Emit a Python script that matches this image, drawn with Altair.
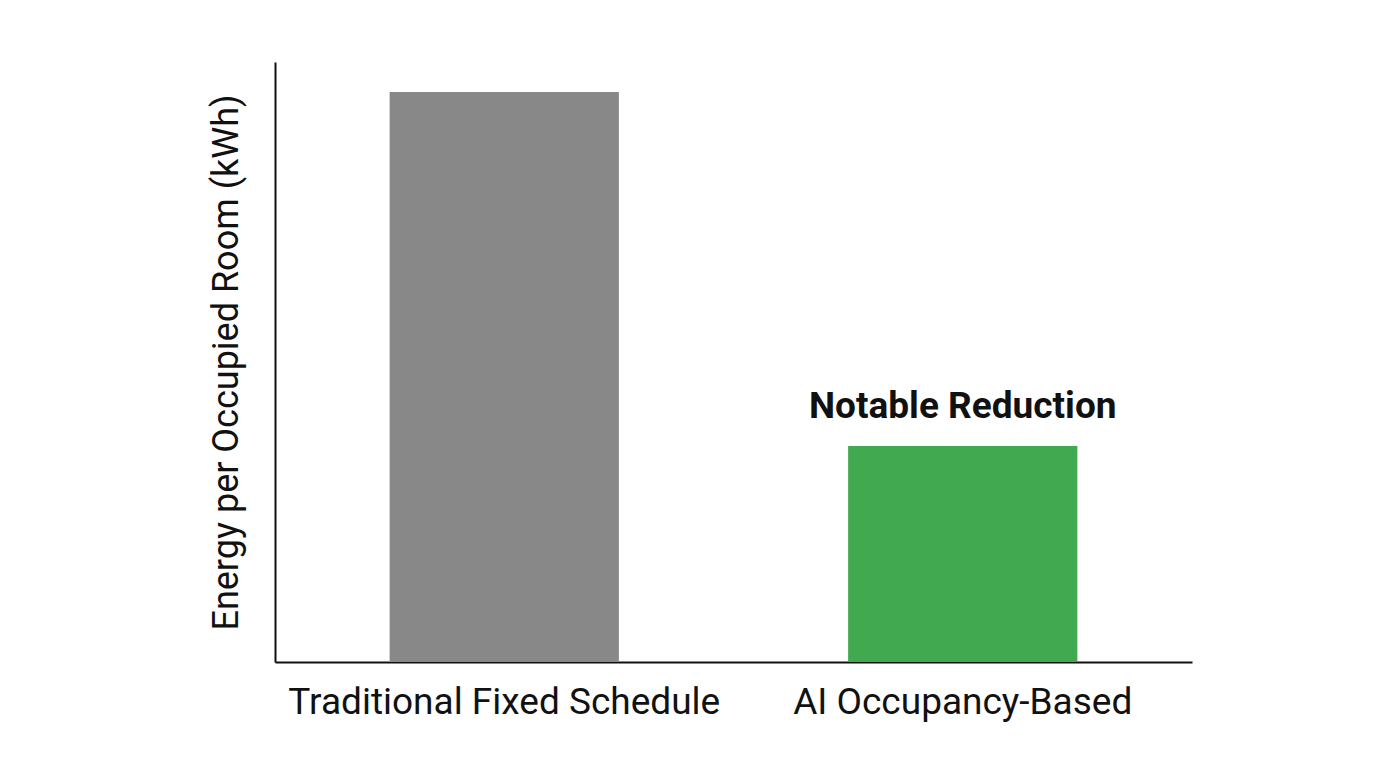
import altair as alt
import pandas as pd

categories = ["Traditional Fixed Schedule", "AI Occupancy-Based"]
values = [95, 36]
colors = ["#888888", "#41A950"]
annotation = ["", "Notable Reduction"]

df = pd.DataFrame({"cat": categories, "val": values, "color": colors, "note": annotation})

x = alt.X("cat:N", sort=categories,
          scale=alt.Scale(paddingInner=0.5, paddingOuter=0.25),
          axis=alt.Axis(title=None, labelAngle=0, labelFontSize=37, labelFont="Roboto",
                        labelColor="#111111", ticks=False, labelPadding=22,
                        domainColor="#111111", domainWidth=2, labelLimit=600))
y = alt.Y("val:Q", scale=alt.Scale(domain=[0, 100]),
          axis=alt.Axis(title="Energy per Occupied Room (kWh)", titleFont="Roboto",
                        titleFontSize=36, titleFontWeight="normal", titleColor="#111111",
                        labels=False, ticks=False, grid=False, titlePadding=30,
                        domainColor="#111111", domainWidth=2))

bars = alt.Chart(df).mark_bar().encode(x=x, y=y, color=alt.Color("color:N", scale=None))
text = alt.Chart(df).mark_text(fontSize=37, fontWeight="bold", font="Roboto", dy=-28,
                               baseline="alphabetic", color="#111111").encode(
    x=alt.X("cat:N", sort=categories), y="val:Q", text="note:N")

chart = (bars + text).properties(
    width=917, height=600,
    background="white",
    autosize=alt.AutoSizeParams(type="none"),
    padding={"left": 267, "top": 54, "right": 170, "bottom": 90},
).configure_view(strokeWidth=0)

chart.save("out.html", embed_options={"renderer": "svg", "actions": False})
